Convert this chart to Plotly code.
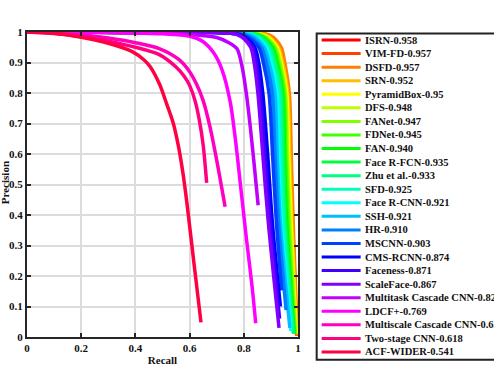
import colorsys
import plotly.graph_objects as go

# ---------------- data ----------------
method_names = [
    "ISRN-0.958", "VIM-FD-0.957", "DSFD-0.957", "SRN-0.952", "PyramidBox-0.95",
    "DFS-0.948", "FANet-0.947", "FDNet-0.945", "FAN-0.940", "Face R-FCN-0.935",
    "Zhu et al.-0.933", "SFD-0.925", "Face R-CNN-0.921", "SSH-0.921", "HR-0.910",
    "MSCNN-0.903", "CMS-RCNN-0.874", "Faceness-0.871", "ScaleFace-0.867",
    "Multitask Cascade CNN-0.825", "LDCF+-0.769", "Multiscale Cascade CNN-0.634",
    "Two-stage CNN-0.618", "ACF-WIDER-0.541",
]

top_precision = [1, 0.998, 0.99, 0.95, 0.9, 0.8, 0.6, 0.38]

ISRN_recall = [0, 0.5, 0.88, 0.925, 0.942, 0.963, 0.970, 0.979, 0.995]
ISRN_precision = top_precision + [0.005]
VIMFD_recall = [0, 0.5, 0.885, 0.928, 0.945, 0.965, 0.972, 0.980, 0.996]
VIMFD_precision = top_precision + [0.005]
DSFD_recall = [0, 0.5, 0.895, 0.938, 0.951, 0.968, 0.975, 0.982, 0.997]
DSFD_precision = top_precision + [0.005]
SRN_recall = [0, 0.5, 0.88, 0.927, 0.943, 0.962, 0.969, 0.977, 0.995]
SRN_precision = top_precision + [0.01]
PyramidBox_recall = [0, 0.5, 0.875, 0.922, 0.938, 0.958, 0.965, 0.974, 0.993]
PyramidBox_precision = top_precision + [0.01]
DFS_recall = [0, 0.5, 0.87, 0.918, 0.935, 0.955, 0.962, 0.971, 0.992]
DFS_precision = top_precision + [0.01]
FANet_recall = [0, 0.5, 0.865, 0.915, 0.932, 0.952, 0.959, 0.967, 0.990]
FANet_precision = top_precision + [0.01]
FDNet_recall = [0, 0.5, 0.86, 0.91, 0.927, 0.948, 0.955, 0.963, 0.988]
FDNet_precision = top_precision + [0.01]
FAN_recall = [0, 0.5, 0.855, 0.905, 0.923, 0.944, 0.950, 0.958, 0.986]
FAN_precision = top_precision + [0.01]
FaceRFCN_recall = [0, 0.5, 0.85, 0.90, 0.918, 0.940, 0.946, 0.954, 0.984]
FaceRFCN_precision = top_precision + [0.01]
Zhu_recall = [0, 0.5, 0.845, 0.895, 0.913, 0.935, 0.942, 0.950, 0.982]
Zhu_precision = top_precision + [0.015]
SFD_recall = [0, 0.5, 0.835, 0.888, 0.906, 0.928, 0.936, 0.945, 0.978]
SFD_precision = top_precision + [0.02]
FaceRCNN_recall = [0, 0.5, 0.83, 0.882, 0.900, 0.922, 0.929, 0.938, 0.974]
FaceRCNN_precision = top_precision + [0.02]
SSH_recall = [0, 0.5, 0.825, 0.875, 0.893, 0.915, 0.923, 0.934, 0.970]
SSH_precision = top_precision + [0.03]
HR_recall = [0, 0.5, 0.81, 0.865, 0.883, 0.905, 0.915, 0.928, 0.956]
HR_precision = top_precision + [0.088]
MSCNN_recall = [0, 0.5, 0.80, 0.855, 0.872, 0.893, 0.906, 0.920, 0.940]
MSCNN_precision = top_precision + [0.153]
CMSRCNN_recall = [0, 0.5, 0.79, 0.84, 0.855, 0.870, 0.888, 0.905, 0.935]
CMSRCNN_precision = top_precision + [0.10]
Faceness_recall = [0, 0.5, 0.785, 0.832, 0.846, 0.860, 0.878, 0.897, 0.932]
Faceness_precision = top_precision + [0.06]
ScaleFace_recall = [0, 0.5, 0.78, 0.825, 0.838, 0.852, 0.870, 0.890, 0.930]
ScaleFace_precision = top_precision + [0.03]
Multitask_recall = [0, 0.4, 0.6, 0.7, 0.745, 0.775, 0.795, 0.81, 0.825, 0.84, 0.853]
Multitask_precision = [1, 0.998, 0.992, 0.982, 0.965, 0.945, 0.88, 0.794, 0.68, 0.55, 0.432]
LDCF_recall = [0, 0.3, 0.5, 0.6, 0.65, 0.69, 0.72, 0.75, 0.77, 0.79, 0.81, 0.83, 0.844]
LDCF_precision = [1, 0.998, 0.994, 0.986, 0.968, 0.93, 0.875, 0.77, 0.64, 0.48, 0.32, 0.17, 0.045]
Multiscale_recall = [0, 0.1, 0.2, 0.3, 0.4, 0.49, 0.56, 0.6, 0.625, 0.65, 0.675, 0.7, 0.731]
Multiscale_precision = [1, 0.997, 0.99, 0.98, 0.965, 0.945, 0.91, 0.87, 0.83, 0.775, 0.69, 0.58, 0.427]
TwoStage_recall = [0, 0.1, 0.2, 0.3, 0.4, 0.49, 0.55, 0.58, 0.6, 0.62, 0.635, 0.65, 0.663]
TwoStage_precision = [1, 0.995, 0.985, 0.97, 0.95, 0.925, 0.885, 0.855, 0.825, 0.775, 0.715, 0.63, 0.505]
ACF_recall = [0, 0.1, 0.2, 0.3, 0.39, 0.43, 0.454, 0.49, 0.515, 0.54, 0.56, 0.575, 0.59, 0.615, 0.642]
ACF_precision = [1, 0.996, 0.983, 0.963, 0.935, 0.91, 0.887, 0.827, 0.765, 0.70, 0.62, 0.54, 0.44, 0.25, 0.048]

recall_series = [
    ISRN_recall, VIMFD_recall, DSFD_recall, SRN_recall, PyramidBox_recall,
    DFS_recall, FANet_recall, FDNet_recall, FAN_recall, FaceRFCN_recall,
    Zhu_recall, SFD_recall, FaceRCNN_recall, SSH_recall, HR_recall,
    MSCNN_recall, CMSRCNN_recall, Faceness_recall, ScaleFace_recall,
    Multitask_recall, LDCF_recall, Multiscale_recall, TwoStage_recall, ACF_recall,
]
precision_series = [
    ISRN_precision, VIMFD_precision, DSFD_precision, SRN_precision, PyramidBox_precision,
    DFS_precision, FANet_precision, FDNet_precision, FAN_precision, FaceRFCN_precision,
    Zhu_precision, SFD_precision, FaceRCNN_precision, SSH_precision, HR_precision,
    MSCNN_precision, CMSRCNN_precision, Faceness_precision, ScaleFace_precision,
    Multitask_precision, LDCF_precision, Multiscale_precision, TwoStage_precision, ACF_precision,
]

x_tick_values = [0, 0.2, 0.4, 0.6, 0.8, 1]
x_tick_labels = ["0", "0.2", "0.4", "0.6", "0.8", "1"]
y_tick_values = [0, 0.1, 0.2, 0.3, 0.4, 0.5, 0.6, 0.7, 0.8, 0.9, 1]
y_tick_labels = ["0", "0.1", "0.2", "0.3", "0.4", "0.5", "0.6", "0.7", "0.8", "0.9", "1"]

# ---------------- styles / layout ----------------
W, H = 494, 374
ML = 27
MT = 32
MR = W - 298.3
MB = H - 336.7
PW = W - ML - MR
PH = H - MT - MB

def colour(i, n):
    r, g, b = colorsys.hsv_to_rgb(i / n, 1, 1)
    return "rgb(%d,%d,%d)" % (round(r * 255), round(g * 255), round(b * 255))

colours = [colour(i, len(method_names)) for i in range(len(method_names))]

def px_x(px):
    return (px - ML) / PW

def px_y(py):
    return (H - MB - py) / PH

FONT = dict(family="Liberation Serif", size=11, color="#111", weight="bold")
LEG_FONT = dict(family="Liberation Serif", size=10.5, color="#111", weight="bold")

fig = go.Figure()
for name, rec, prec, col in zip(method_names, recall_series, precision_series, colours):
    fig.add_trace(go.Scatter(
        x=rec, y=prec, mode="lines", name=name, showlegend=False,
        line=dict(color=col, width=3.5, shape="spline", smoothing=0.8),
    ))

axis_common = dict(
    range=[0, 1], showgrid=True, gridcolor="#dcdcdc", gridwidth=1.6,
    showline=True, linecolor="#262626", linewidth=2, mirror="ticks",
    ticks="inside", ticklen=4, tickwidth=1.5, tickcolor="#262626",
    zeroline=False, tickfont=FONT, fixedrange=True,
)
fig.update_xaxes(**axis_common, tickvals=x_tick_values, ticktext=x_tick_labels,
                 title=dict(text="Recall", font=FONT, standoff=3))
fig.update_yaxes(**axis_common, tickvals=y_tick_values, ticktext=y_tick_labels)

# manual legend (compact spacing like the reference)
shapes = [dict(type="rect", xref="paper", yref="paper",
               x0=px_x(317), x1=px_x(560), y0=px_y(359.5), y1=px_y(33.5),
               line=dict(color="#222", width=2), fillcolor="white", layer="below")]
annotations = [dict(xref="paper", yref="paper", x=px_x(5), y=px_y(183),
                    xanchor="center", yanchor="middle", textangle=-90,
                    text="Precision", showarrow=False, font=FONT)]
for i, (name, col) in enumerate(zip(method_names, colours)):
    cy = 40 + 13.55 * i
    shapes.append(dict(type="line", xref="paper", yref="paper",
                       x0=px_x(322), x1=px_x(361), y0=px_y(cy), y1=px_y(cy),
                       line=dict(color=col, width=3)))
    annotations.append(dict(xref="paper", yref="paper", x=px_x(363), y=px_y(cy),
                            xanchor="left", yanchor="middle", text=name,
                            showarrow=False, font=LEG_FONT))

fig.update_layout(
    width=W, height=H,
    margin=dict(l=ML, r=MR, t=MT, b=MB, autoexpand=False),
    paper_bgcolor="white", plot_bgcolor="white",
    shapes=shapes, annotations=annotations,
    font=FONT,
)

fig.write_html("out.html", config={"displayModeBar": False},
               post_script="document.body.style.margin='0';")
